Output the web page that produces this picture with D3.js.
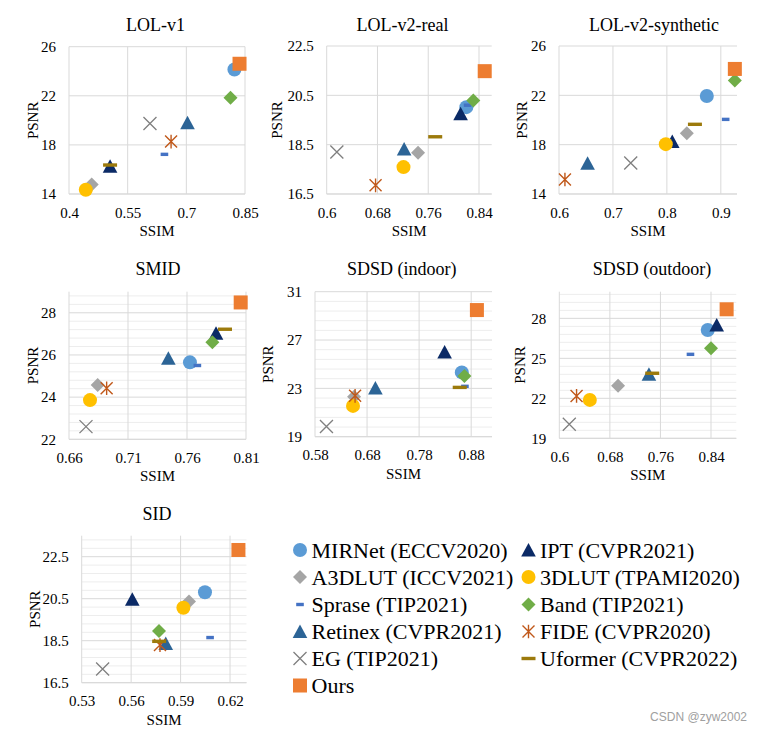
<!DOCTYPE html>
<html>
<head>
<meta charset="utf-8">
<script src="https://cdn.jsdelivr.net/npm/d3@7"></script>
<style>
  html, body { margin: 0; padding: 0; background: #ffffff; }
  svg { display: block; }
</style>
</head>
<body>
<svg id="chart" width="763" height="733"></svg>
<script>
// ---------------- DATA ----------------
// method order: MIRNet, IPT, A3DLUT, 3DLUT, Sprase, Band, Retinex, FIDE, EG, Uformer, Ours
const methods = [
  "MIRNet (ECCV2020)", "IPT (CVPR2021)", "A3DLUT (ICCV2021)", "3DLUT (TPAMI2020)",
  "Sprase (TIP2021)", "Band (TIP2021)", "Retinex (CVPR2021)", "FIDE (CVPR2020)",
  "EG (TIP2021)", "Uformer (CVPR2022)", "Ours"
];

const lolV1SSIM = [0.823, 0.505, 0.458, 0.443, 0.644, 0.813, 0.703, 0.661, 0.607, 0.505, 0.836];
const lolV1PSNR = [24.14, 16.27, 14.77, 14.35, 17.23, 21.85, 19.80, 18.27, 19.75, 16.36, 24.61];

const lolV2RealSSIM = [0.820, 0.811, 0.744, 0.721, 0.822, 0.831, 0.722, 0.677, 0.616, 0.771, 0.849];
const lolV2RealPSNR = [20.02, 19.75, 18.17, 17.59, 20.10, 20.29, 18.32, 16.85, 18.20, 18.82, 21.48];

const lolV2SynSSIM = [0.874, 0.810, 0.837, 0.798, 0.909, 0.926, 0.653, 0.611, 0.733, 0.852, 0.926];
const lolV2SynPSNR = [21.94, 18.25, 18.92, 18.04, 20.05, 23.20, 16.50, 15.17, 16.52, 19.65, 24.14];

const smidSSIM = [0.7625, 0.7846, 0.6843, 0.6778, 0.7688, 0.7815, 0.7442, 0.6919, 0.6744, 0.7922, 0.8055];
const smidPSNR = [25.65, 27.03, 24.57, 23.86, 25.50, 26.60, 25.84, 24.42, 22.60, 27.22, 28.49];

const sdsdInSSIM = [0.862, 0.829, 0.655, 0.653, 0.868, 0.867, 0.696, 0.657, 0.602, 0.858, 0.891];
const sdsdInPSNR = [24.32, 26.02, 22.31, 21.55, 23.17, 24.02, 23.03, 22.38, 19.85, 23.08, 29.48];

const sdsdOutSSIM = [0.8348, 0.849, 0.693, 0.6483, 0.8075, 0.840, 0.7418, 0.6273, 0.6158, 0.747, 0.8647];
const sdsdOutPSNR = [27.13, 27.50, 22.95, 21.88, 25.30, 25.75, 23.80, 22.18, 20.05, 23.88, 28.68];

const sidSSIM = [0.6048, 0.5607, 0.5951, 0.5917, 0.6079, 0.5769, 0.581, 0.5775, 0.5427, 0.577, 0.6251];
const sidPSNR = [20.81, 20.47, 20.37, 20.07, 18.65, 18.96, 18.37, 18.29, 17.15, 18.47, 22.82];

// tick labels
const lolV1XTicks = [0.4, 0.55, 0.7, 0.85];
const lolV1YTicks = [14, 18, 22, 26];
const lolV2RealXTicks = [0.6, 0.68, 0.76, 0.84];
const lolV2RealYTicks = [16.5, 18.5, 20.5, 22.5];
const lolV2SynXTicks = [0.6, 0.7, 0.8, 0.9];
const lolV2SynYTicks = [14, 18, 22, 26];
const smidXTicks = [0.66, 0.71, 0.76, 0.81];
const smidYTicks = [22, 24, 26, 28];
const sdsdInXTicks = [0.58, 0.68, 0.78, 0.88];
const sdsdInYTicks = [19, 23, 27, 31];
const sdsdOutXTicks = [0.6, 0.68, 0.76, 0.84];
const sdsdOutYTicks = [19, 22, 25, 28];
const sidXTicks = [0.53, 0.56, 0.59, 0.62];
const sidYTicks = [16.5, 18.5, 20.5, 22.5];

// ---------------- STYLES / LAYOUT ----------------
const styles = [
  { shape: "circle",   color: "#5B9BD5" },
  { shape: "triangle", color: "#0B2A66" },
  { shape: "diamond",  color: "#A5A5A5" },
  { shape: "circle",   color: "#FFC000" },
  { shape: "dashS",    color: "#4472C4" },
  { shape: "diamond",  color: "#70AD47" },
  { shape: "triangle", color: "#2C6496" },
  { shape: "star",     color: "#C0581A" },
  { shape: "cross",    color: "#7F7F7F" },
  { shape: "dashL",    color: "#9C7A0C" },
  { shape: "square",   color: "#ED7D31" }
];

const panels = [
  { title: "LOL-v1", ssim: lolV1SSIM, psnr: lolV1PSNR, xd: [0.4, 0.85], yd: [14, 26],
    xt: lolV1XTicks, yt: lolV1YTicks, minor: null,
    r: { x: 69, y: 46.7, w: 176, h: 147.3 }, tx: 155.5, ty: 30.5, lx: 33 },
  { title: "LOL-v2-real", ssim: lolV2RealSSIM, psnr: lolV2RealPSNR, xd: [0.6, 0.86], yd: [16.5, 22.5],
    xt: lolV2RealXTicks, yt: lolV2RealYTicks, minor: null,
    r: { x: 326.7, y: 46, w: 165, h: 148 }, tx: 402.5, ty: 30.5, lx: 277 },
  { title: "LOL-v2-synthetic", ssim: lolV2SynSSIM, psnr: lolV2SynPSNR, xd: [0.6, 0.93], yd: [14, 26],
    xt: lolV2SynXTicks, yt: lolV2SynYTicks, minor: null,
    r: { x: 559, y: 46, w: 178, h: 148 }, tx: 654, ty: 30.5, lx: 522 },
  { title: "SMID", ssim: smidSSIM, psnr: smidPSNR, xd: [0.66, 0.81], yd: [22, 29],
    xt: smidXTicks, yt: smidYTicks, minor: 0.4,
    r: { x: 69, y: 291.7, w: 177, h: 147.6 }, tx: 158, ty: 275, lx: 33 },
  { title: "SDSD (indoor)", ssim: sdsdInSSIM, psnr: sdsdInPSNR, xd: [0.58, 0.92], yd: [19, 31],
    xt: sdsdInXTicks, yt: sdsdInYTicks, minor: 0.8,
    r: { x: 315, y: 291.7, w: 177, h: 145 }, tx: 401.7, ty: 275, lx: 268 },
  { title: "SDSD (outdoor)", ssim: sdsdOutSSIM, psnr: sdsdOutPSNR, xd: [0.6, 0.88], yd: [19, 30],
    xt: sdsdOutXTicks, yt: sdsdOutYTicks, minor: 0.6,
    r: { x: 559.3, y: 291.7, w: 177, h: 146.6 }, tx: 652, ty: 275, lx: 520 },
  { title: "SID", ssim: sidSSIM, psnr: sidPSNR, xd: [0.53, 0.63], yd: [16.5, 23.5],
    xt: sidXTicks, yt: sidYTicks, minor: 0.4,
    r: { x: 81.7, y: 535.7, w: 164.8, h: 147 }, tx: 157, ty: 520, lx: 35 }
];

const FONT = "'Liberation Serif', 'Times New Roman', serif";
const svg = d3.select("#chart");

function drawMarker(g, shape, color) {
  switch (shape) {
    case "circle":
      g.append("circle").attr("r", 7).attr("fill", color); break;
    case "square":
      g.append("rect").attr("x", -7).attr("y", -7).attr("width", 14).attr("height", 14).attr("fill", color); break;
    case "diamond":
      g.append("path").attr("d", "M0,-7L7,0L0,7L-7,0Z").attr("fill", color); break;
    case "triangle":
      g.append("path").attr("d", "M0,-7L7.3,6.5L-7.3,6.5Z").attr("fill", color); break;
    case "dashS":
      g.append("rect").attr("x", -3.8).attr("y", -1.7).attr("width", 7.6).attr("height", 3.4).attr("fill", color); break;
    case "dashL":
      g.append("rect").attr("x", -7).attr("y", -1.7).attr("width", 14).attr("height", 3.4).attr("fill", color); break;
    case "cross":
      g.append("path").attr("d", "M-6.5,-6.5L6.5,6.5M-6.5,6.5L6.5,-6.5")
        .attr("stroke", color).attr("stroke-width", 1.3).attr("fill", "none"); break;
    case "star":
      g.append("path").attr("d", "M-6,-6L6,6M-6,6L6,-6M0,-6.8L0,6.8")
        .attr("stroke", color).attr("stroke-width", 1.4).attr("fill", "none"); break;
  }
}

panels.forEach(p => {
  const r = p.r;
  const x = d3.scaleLinear().domain(p.xd).range([r.x, r.x + r.w]);
  const y = d3.scaleLinear().domain(p.yd).range([r.y + r.h, r.y]);
  const g = svg.append("g");

  // minor horizontal gridlines
  if (p.minor) {
    const minors = d3.range(p.yd[0] + p.minor, p.yd[1] + 1e-9, p.minor)
      .filter(v => !p.yt.some(t => Math.abs(t - v) < 1e-6));
    g.append("g").selectAll("line").data(minors).join("line")
      .attr("x1", r.x).attr("x2", r.x + r.w)
      .attr("y1", d => y(d)).attr("y2", d => y(d))
      .attr("stroke", "#EDEDED").attr("stroke-width", 1);
  }
  // major gridlines
  g.append("g").selectAll("line").data(p.yt).join("line")
    .attr("x1", r.x).attr("x2", r.x + r.w)
    .attr("y1", d => y(d)).attr("y2", d => y(d))
    .attr("stroke", "#D9D9D9").attr("stroke-width", 1);
  g.append("g").selectAll("line").data(p.xt).join("line")
    .attr("y1", r.y).attr("y2", r.y + r.h)
    .attr("x1", d => x(d)).attr("x2", d => x(d))
    .attr("stroke", "#D9D9D9").attr("stroke-width", 1);
  // bottom axis line
  g.append("line").attr("x1", r.x).attr("x2", r.x + r.w)
    .attr("y1", r.y + r.h).attr("y2", r.y + r.h).attr("stroke", "#D9D9D9");

  // axes (labels only)
  const xa = g.append("g").attr("transform", `translate(0,${r.y + r.h})`)
    .call(d3.axisBottom(x).tickValues(p.xt).tickSize(0).tickPadding(13).tickFormat(d => String(d)));
  const ya = g.append("g").attr("transform", `translate(${r.x},0)`)
    .call(d3.axisLeft(y).tickValues(p.yt).tickSize(0).tickPadding(13).tickFormat(d => String(d)));
  [xa, ya].forEach(a => {
    a.select(".domain").remove();
    a.selectAll("text").attr("font-family", FONT).attr("font-size", 15).attr("fill", "#000");
  });

  // markers in legend order (later on top)
  p.ssim.forEach((sv, i) => {
    const mg = g.append("g").attr("transform", `translate(${x(sv)},${y(p.psnr[i])})`);
    drawMarker(mg, styles[i].shape, styles[i].color);
  });

  // titles & axis labels
  g.append("text").attr("x", p.tx).attr("y", p.ty).attr("text-anchor", "middle")
    .attr("font-family", FONT).attr("font-size", 18).text(p.title);
  g.append("text").attr("x", r.x + r.w / 2).attr("y", r.y + r.h + 42).attr("text-anchor", "middle")
    .attr("font-family", FONT).attr("font-size", 15).text("SSIM");
  g.append("text").attr("transform", `translate(${p.lx + 5},${r.y + r.h / 2}) rotate(-90)`)
    .attr("text-anchor", "middle").attr("font-family", FONT).attr("font-size", 15).text("PSNR");
});

// ---------------- LEGEND ----------------
const legCols = [{ mx: 300, tx: 311.5 }, { mx: 528.5, tx: 540 }];
const legRows = [550, 577, 604.5, 631.5, 658.5, 685.5];
methods.forEach((m, i) => {
  const col = legCols[i % 2];
  const ry = legRows[Math.floor(i / 2)];
  const mg = svg.append("g").attr("transform", `translate(${col.mx},${ry})`);
  drawMarker(mg, styles[i].shape, styles[i].color);
  svg.append("text").attr("x", col.tx).attr("y", ry + 7.5)
    .attr("font-family", FONT).attr("font-size", 22).attr("fill", "#000").text(m);
});

// watermark
svg.append("text").attr("x", 747).attr("y", 721).attr("text-anchor", "end")
  .attr("font-family", "'Liberation Sans', Arial, sans-serif").attr("font-size", 12)
  .attr("fill", "#A0A0A0").text("CSDN @zyw2002");
</script>
</body>
</html>
